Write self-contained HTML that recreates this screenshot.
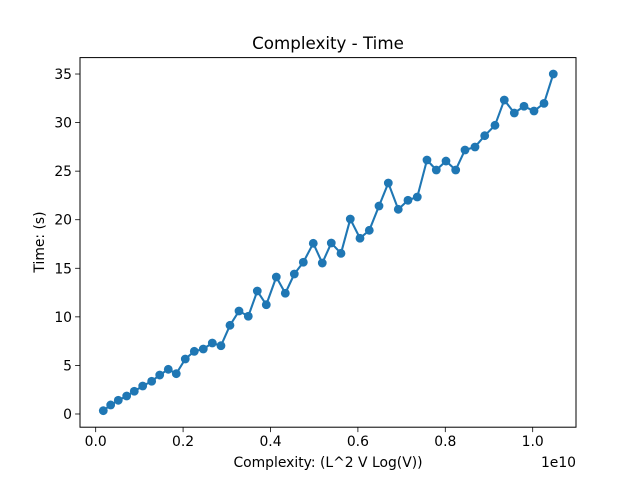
<!DOCTYPE html>
<html><head><meta charset="utf-8"><style>
body{margin:0;background:#fff}
svg text{font-family:"DejaVu Sans","Liberation Sans",sans-serif;fill:#000}
</style></head><body>
<svg id="chart" width="640" height="480" xmlns="http://www.w3.org/2000/svg">
<rect width="640" height="480" fill="#fff"/>
<text x="328" y="49" font-size="16.7" text-anchor="middle">Complexity - Time</text>
<text x="328" y="467" font-size="13.9" text-anchor="middle">Complexity: (L^2 V Log(V))</text>
<text x="576" y="467" font-size="13.9" text-anchor="end">1e10</text>
<text transform="translate(44,242) rotate(-90)" font-size="13.9" text-anchor="middle">Time: (s)</text>
<g id="ticks"></g>
<g id="series"></g>
<rect x="80" y="57.6" width="496" height="369.6" fill="none" stroke="#000" stroke-width="1"/>
</svg>
<script>
const xValues=[0.0174,0.0343,0.0517,0.0709,0.0883,0.1076,0.1281,0.1465,0.1661,0.1844,0.2050,0.2256,0.2462,0.2668,0.2867,0.3073,0.3279,0.3492,0.3698,0.3904,0.4133,0.4339,0.4545,0.4751,0.4979,0.5185,0.5391,0.5613,0.5826,0.6048,0.6261,0.6483,0.6696,0.6924,0.7146,0.7359,0.7581,0.7794,0.8016,0.8238,0.8451,0.8680,0.8902,0.9137,0.9350,0.9579,0.9801,1.0030,1.0259,1.0471];
const timeValues=[0.34,0.93,1.41,1.85,2.34,2.88,3.37,4.01,4.60,4.15,5.66,6.45,6.69,7.31,7.03,9.13,10.60,10.06,12.66,11.25,14.10,12.43,14.41,15.62,17.57,15.54,17.60,16.54,20.07,18.09,18.91,21.41,23.78,21.07,22.00,22.34,26.15,25.12,26.04,25.12,27.18,27.49,28.65,29.72,32.32,30.99,31.68,31.19,31.98,35.00];
const xTicks=[0,0.2,0.4,0.6,0.8,1.0];
const xTickLabels=["0.0","0.2","0.4","0.6","0.8","1.0"];
const yTicks=[0,5,10,15,20,25,30,35];
const yTickLabels=["0","5","10","15","20","25","30","35"];
const X0=80,X1=576,Y0=427.2,Y1=57.6,xmin=-0.0359,xmax=1.0991,ymin=-1.36,ymax=36.69;
function sx(v){return X0+(v-xmin)/(xmax-xmin)*(X1-X0);}
function sy(v){return Y0-(v-ymin)/(ymax-ymin)*(Y0-Y1);}
const NS="http://www.w3.org/2000/svg";
function mk(tag,attrs,parent){const e=document.createElementNS(NS,tag);for(const k in attrs)e.setAttribute(k,attrs[k]);parent.appendChild(e);return e;}
const tg=document.getElementById('ticks');
xTicks.forEach((t,i)=>{const x=sx(t);
 const l=mk('line',{x1:x,x2:x,y1:Y0,y2:Y0+4.9,stroke:'#000','stroke-width':0.8},tg);
 
 
 const tx=mk('text',{x:x,y:Y0+19,'font-size':13.9,'text-anchor':'middle'},tg);tx.textContent=xTickLabels[i];
 
 
});
yTicks.forEach((t,i)=>{const y=sy(t);
 const l=mk('line',{x1:X0-4.9,x2:X0,y1:y,y2:y,stroke:'#000','stroke-width':0.8},tg);
 
 
 const tx=mk('text',{x:X0-8,y:y+5,'font-size':13.9,'text-anchor':'end'},tg);tx.textContent=yTickLabels[i];
 
 
});
const sg=document.getElementById('series');
const pts=xValues.map((v,i)=>sx(v).toFixed(2)+','+sy(timeValues[i]).toFixed(2)).join(' ');
const pl=mk('polyline',{points:pts,fill:'none',stroke:'#1f77b4','stroke-width':2.08,'stroke-linejoin':'round'},sg);


xValues.forEach((v,i)=>{
 const c=mk('circle',{cx:sx(v),cy:sy(timeValues[i]),r:4.4,fill:'#1f77b4'},sg);
 
 
});
</script>
</body></html>
